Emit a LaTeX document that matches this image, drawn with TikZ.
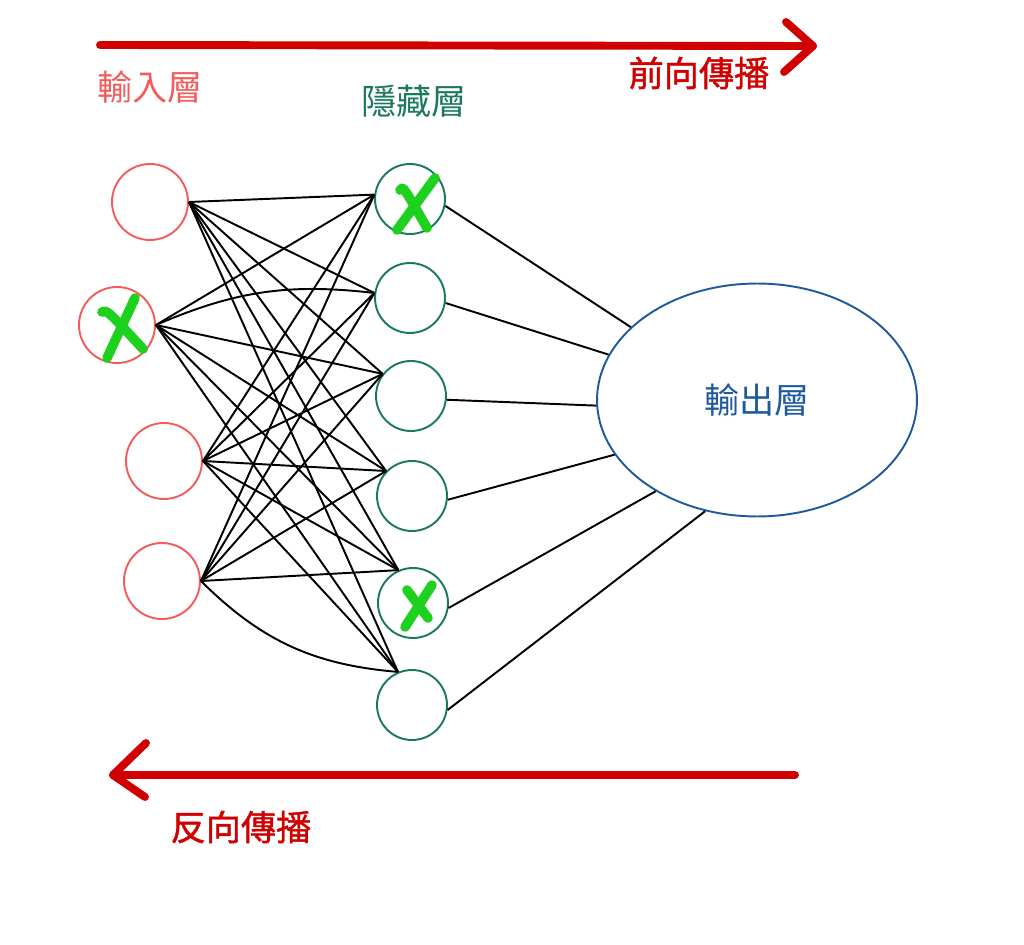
\documentclass[tikz,border=0pt]{standalone}
\usepackage{fontspec}
\newfontfamily\cjk{Noto Sans CJK TC}
\newfontfamily\cjkheavy[FakeBold=1.2]{Noto Sans CJK TC}
\usetikzlibrary{shapes.geometric, arrows.meta, calc}
\definecolor{inRed}{HTML}{F25C5C}
\definecolor{hidTeal}{HTML}{1B7A5E}
\definecolor{outBlue}{HTML}{1F5A9E}
\definecolor{flowRed}{HTML}{D10000}
\definecolor{dropGreen}{HTML}{1FD11F}
\tikzset{
  innode/.style={draw=inRed, line width=1.1pt, circle, minimum size=1.52cm, inner sep=0pt},
  hidnode/.style={draw=hidTeal, line width=1.1pt, circle, minimum size=1.40cm, inner sep=0pt},
  link/.style={line width=1.1pt, draw=black},
  flow/.style={draw=flowRed, line width=4.5pt, line cap=round, line join=round},
  drop/.style={draw=dropGreen, line width=5.5pt, line cap=round, line join=round},
  layertext/.style={font=\cjk\fontsize{20}{20}\selectfont},
  flowtext/.style={font=\cjkheavy\fontsize{20}{20}\selectfont, text=flowRed},
}

\begin{document}
\begin{tikzpicture}[x=0.02cm, y=-0.02cm]
\useasboundingbox (0,0) rectangle (1024,945);
% layers
\node[innode] (i1) at (150,202) {};
\node[innode] (i2) at (117,325) {};
\node[innode] (i3) at (164,461) {};
\node[innode] (i4) at (162,581) {};
\node[hidnode] (h1) at (410,199) {};
\node[hidnode] (h2) at (410,298) {};
\node[hidnode] (h3) at (411,396) {};
\node[hidnode] (h4) at (412,496) {};
\node[hidnode] (h5) at (413,603) {};
\node[hidnode] (h6) at (412,705) {};
\node[draw=outBlue, line width=1.1pt, ellipse, minimum width=6.4cm, minimum height=4.66cm,
      inner sep=0pt, text=outBlue, layertext] (out) at (757,400) {輸出層};
% titles
\node[layertext, text=inRed] (intitle) at (150,87) {輸入層};
\node[layertext, text=hidTeal] (hidtitle) at (414,101) {隱藏層};
\node[flowtext] (fwdtitle) at (699,73) {前向傳播};
\node[flowtext] (bwdtitle) at (241,827) {反向傳播};
% input -> hidden
\foreach \i in {1,...,4}{
  \foreach \h/\a in {1/173, 2/172, 3/142, 4/136, 5/114, 6/113}{
    \ifnum\i\h=22\relax\else\ifnum\i\h=46\relax\else
      \draw[link] (i\i.east) -- (h\h.\a);
    \fi\fi
  }
}
\draw[link] (i2.east) to[bend left=15] (h2.172);
\draw[link] (i4.east) to[bend right=20] (h6.113);
% hidden -> output
\foreach \h/\a/\b in {1/-11/150.6, 2/-8/163.5, 3/-6/182.5, 4/-6/201.2, 5/-8/222.4, 6/-8/245.3}
  \draw[link] (h\h.\a) -- (out.\b);
% dropout marks
\draw[drop] (435,178) -- (397,230);
\draw[drop] (400,190) .. controls (403,186) .. (427,228);
\draw[drop] (135,298) -- (107,358);
\draw[drop] (102,312) .. controls (107,310) .. (143,349);
\draw[drop] (432,585) -- (405,627);
\draw[drop] (407,590) -- (428,618);
% propagation arrows
\coordinate (fwdstart) at (100,45);
\coordinate (fwdtip) at (813,46);
\draw[flow] (fwdstart) -- (fwdtip);
\draw[flow] (786,22) -- (fwdtip) -- (784,72);
\coordinate (bwdstart) at (795,775);
\coordinate (bwdtip) at (113,775);
\draw[flow] (bwdstart) -- (bwdtip);
\draw[flow] (146,743) -- (bwdtip) -- (145,797);
\end{tikzpicture}
\end{document}
